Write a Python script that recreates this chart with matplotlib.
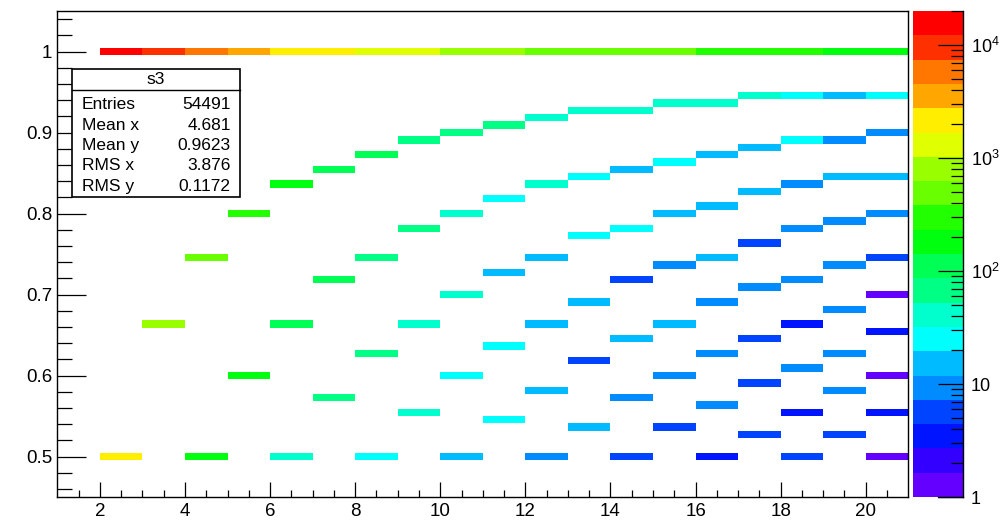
import colorsys
import numpy as np
import matplotlib
matplotlib.use("Agg")
import matplotlib.pyplot as plt
from matplotlib.colors import ListedColormap, LogNorm
from matplotlib.patches import Rectangle
from matplotlib.lines import Line2D
from matplotlib.ticker import FixedLocator, FixedFormatter, NullFormatter

plt.rcParams['font.family'] = ['Liberation Sans', 'DejaVu Sans']
plt.rcParams['mathtext.fontset'] = 'custom'
plt.rcParams['mathtext.rm'] = 'Liberation Sans'

# column n holds the ratios k/n, counts listed from k = n (ratio 1) downwards
n_vals = list(range(2, 21))
col_counts = [
    [16400, 2200],
    [9800, 820],
    [6000, 500, 185],
    [3600, 300, 185],
    [2200, 185, 112, 42],
    [2200, 112, 112, 68],
    [1350, 112, 68, 68, 25],
    [1350, 68, 68, 42, 42],
    [820, 68, 42, 42, 25, 15],
    [820, 68, 25, 15, 25, 25],
    [500, 42, 42, 15, 15, 15, 9],
    [500, 42, 25, 25, 15, 6, 15],
    [500, 42, 15, 25, 6, 15, 9, 6],
    [500, 42, 25, 15, 9, 15, 9, 6],
    [300, 42, 15, 15, 15, 9, 9, 9, 3],
    [300, 42, 15, 15, 6, 9, 6, 6, 6],
    [300, 25, 25, 9, 9, 9, 3, 9, 3, 6],
    [185, 15, 9, 15, 9, 9, 9, 9, 9, 6],
    [185, 25, 9, 15, 9, 6, 1, 3, 1, 3, 1],
]

stat_names = ["Entries", "Mean x", "Mean y", "RMS x", "RMS y"]
stat_values = ["54491", "4.681", "0.9623", "3.876", "0.1172"]

xs, ys, ws = [], [], []
for n, cnts in zip(n_vals, col_counts):
    for i, c in enumerate(cnts):
        xs.append(n)
        ys.append((n - i) / n)
        ws.append(c)

xedges = np.linspace(1, 21, 21)
yedges = np.linspace(-0.05, 1.05, 122)
h, _, _ = np.histogram2d(xs, ys, bins=[xedges, yedges], weights=ws)
h = np.ma.masked_where(h <= 0, h)

# 50-colour rainbow palette, 20 contour levels picked from it
ncol, ndiv = 50, 20
pal = []
for j in range(ndiv):
    ic = int((j + 0.99) * ncol / ndiv)
    hue = 280.0 - (ic + 1) * 280.0 / ncol
    pal.append(colorsys.hls_to_rgb(hue / 360.0, 0.5, 1.0))
cmap = ListedColormap(pal)
norm = LogNorm(vmin=1, vmax=2e4)

fig = plt.figure(figsize=(10.02, 5.2), dpi=100)
ax = fig.add_axes([0.0572, 0.0442, 0.8493, 0.9346])
mesh = ax.pcolormesh(xedges, yedges, h.T, cmap=cmap, norm=norm, antialiased=False)
ax.set_xlim(1, 21)
ax.set_ylim(0.45, 1.05)

ax.xaxis.set_major_locator(FixedLocator(np.arange(2, 21, 2)))
ax.xaxis.set_minor_locator(FixedLocator(np.arange(1.5, 21, 0.5)))
ax.yaxis.set_major_locator(FixedLocator([0.5, 0.6, 0.7, 0.8, 0.9, 1.0]))
ax.yaxis.set_major_formatter(FixedFormatter(["0.5", "0.6", "0.7", "0.8", "0.9", "1"]))
ax.yaxis.set_minor_locator(FixedLocator(np.arange(0.46, 1.05, 0.02)))
ax.tick_params(axis='x', which='major', direction='in', length=10.8, width=0.9, labelsize=13.5, pad=4)
ax.tick_params(axis='x', which='minor', direction='in', length=5, width=0.9)
ax.tick_params(axis='y', which='major', direction='in', length=20.7, width=0.9, labelsize=13.5, pad=3.5)
ax.tick_params(axis='y', which='minor', direction='in', length=10.8, width=0.9)
for sp in ax.spines.values():
    sp.set_linewidth(1.0)

# palette axis on the right
cax = fig.add_axes([0.9112, 0.0442, 0.0499, 0.9346])
cb = fig.colorbar(mesh, cax=cax)
cb.outline.set_visible(False)
cax.add_line(Line2D([1, 1], [0, 1], transform=cax.transAxes, color='k', lw=1.0, clip_on=False))
cax.add_line(Line2D([0.5, 1], [0, 0], transform=cax.transAxes, color='k', lw=1.0, clip_on=False))
cax.yaxis.set_major_locator(FixedLocator([1, 10, 100, 1000, 10000]))
cax.yaxis.set_major_formatter(FixedFormatter(["1", "10", r"$10^{2}$", r"$10^{3}$", r"$10^{4}$"]))
minor = [m * 10 ** e for e in range(0, 5) for m in range(2, 10) if m * 10 ** e <= 2e4]
cax.yaxis.set_minor_locator(FixedLocator(minor))
cax.yaxis.set_minor_formatter(NullFormatter())
cax.tick_params(axis='y', which='major', direction='in', length=18, width=0.9, labelsize=13, pad=5.5, right=True, left=False)
cax.tick_params(axis='y', which='minor', direction='in', length=9, width=0.9, right=True, left=False)

# statistics box
bl, br, bt, bb = 0.0716, 0.2395, 0.8673, 0.6217
fig.add_artist(Rectangle((bl, bb), br - bl, bt - bb, transform=fig.transFigure,
                         facecolor='white', edgecolor='black', lw=1.2, zorder=5))
fig.add_artist(Line2D([bl, br], [0.8269, 0.8269], transform=fig.transFigure, color='black', lw=1.0, zorder=6))
fig.text((bl + br) / 2, 0.8471, "s3", ha='center', va='center', fontsize=12.5, zorder=7)
for i, (name, val) in enumerate(zip(stat_names, stat_values)):
    yb = 1 - (109.3 + 20.4 * i) / 520
    fig.text(0.0815, yb, name, ha='left', va='baseline', fontsize=12.5, zorder=7)
    fig.text(0.2302, yb, val, ha='right', va='baseline', fontsize=12.5, zorder=7)

fig.savefig("out.png", dpi=100)
